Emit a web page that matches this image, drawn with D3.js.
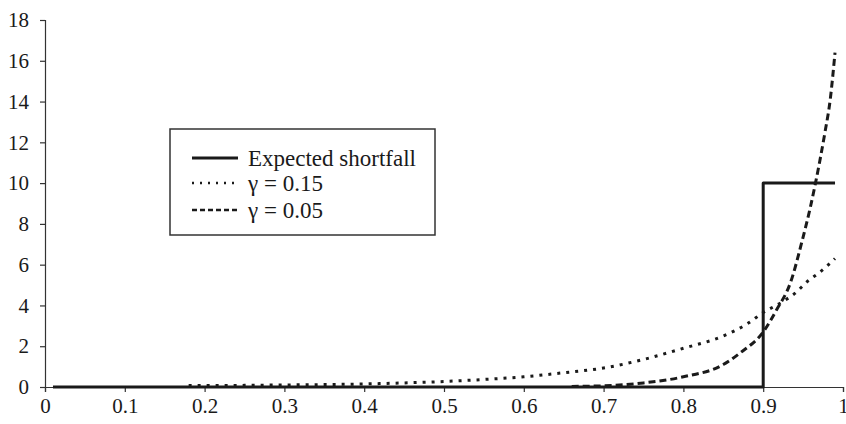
<!DOCTYPE html>
<html>
<head>
<meta charset="utf-8">
<script src="https://cdn.jsdelivr.net/npm/d3@7"></script>
<style>
	body { margin: 0; background: #fff; }
	svg text { font-family: "Liberation Serif", serif; fill: #1a1a1a; }
</style>
</head>
<body>
<div id="chart"></div>
<script>
// x positions (quantile level) and values
var esX = [0.01, 0.9, 0.9, 0.99];
var esY = [0, 0, 10, 10];

var g15X = [0.18, 0.25, 0.3, 0.35, 0.4, 0.45, 0.5, 0.55, 0.6, 0.65, 0.7, 0.75, 0.8, 0.85, 0.88, 0.9, 0.925, 0.94, 0.956, 0.97, 0.99];
var g15Y = [0.07, 0.08, 0.1, 0.12, 0.15, 0.2, 0.27, 0.37, 0.5, 0.7, 0.93, 1.35, 1.9, 2.5, 3.1, 3.65, 4.2, 4.6, 5.2, 5.6, 6.3];

var g05X = [0.66, 0.7, 0.75, 0.8, 0.85, 0.871, 0.9, 0.917, 0.934, 0.949, 0.959, 0.965, 0.971, 0.977, 0.984, 0.99];
var g05Y = [0.03, 0.06, 0.2, 0.5, 1.1, 1.67, 2.7, 3.8, 5.1, 7.2, 8.8, 9.9, 11.1, 12.4, 14.1, 16.4];

var xTicks = [0, 0.1, 0.2, 0.3, 0.4, 0.5, 0.6, 0.7, 0.8, 0.9, 1];
var yTicks = [0, 2, 4, 6, 8, 10, 12, 14, 16, 18];
var legendLabels = ["Expected shortfall", "\u03b3 = 0.15", "\u03b3 = 0.05"];

var width = 846, height = 424;
var margin = {top: 20, left: 45, right: 3, bottom: 37};

var svg = d3.select("#chart").append("svg")
	.attr("width", width)
	.attr("height", height);

var xScale = d3.scaleLinear().domain([0, 1]).range([margin.left, width - margin.right]);
var yScale = d3.scaleLinear().domain([0, 18]).range([height - margin.bottom, margin.top]);

// axes
var xAxis = d3.axisBottom(xScale).tickValues(xTicks).tickSize(5).tickPadding(6)
	.tickFormat(function(d){ return d === 0 || d === 1 ? d3.format("d")(d) : d3.format(".1f")(d); });
var yAxis = d3.axisLeft(yScale).tickValues(yTicks).tickSize(5).tickPadding(11);

var gx = svg.append("g")
	.attr("transform", "translate(0," + yScale(0) + ")")
	.call(xAxis);
var gy = svg.append("g")
	.attr("transform", "translate(" + xScale(0) + ",0)")
	.call(yAxis);

[gx, gy].forEach(function(g) {
	g.attr("font-family", "Liberation Serif").attr("font-size", 21);
	g.select(".domain").attr("stroke", "#333").attr("stroke-width", 1.2);
	g.selectAll(".tick line").attr("stroke", "#333").attr("stroke-width", 1.2);
	g.selectAll(".tick text")
		.attr("font-family", "Liberation Serif")
		.attr("font-size", 21)
		.attr("fill", "#1a1a1a");
});

function toPoints(xs, ys) {
	return xs.map(function(x, i){ return [x, ys[i]]; });
}

var line = d3.line()
	.x(function(d){ return xScale(d[0]); })
	.y(function(d){ return yScale(d[1]); });

var smooth = d3.line()
	.curve(d3.curveMonotoneX)
	.x(function(d){ return xScale(d[0]); })
	.y(function(d){ return yScale(d[1]); });

svg.append("path")
	.attr("d", smooth(toPoints(g15X, g15Y)))
	.attr("fill", "none")
	.attr("stroke", "#1a1a1a")
	.attr("stroke-width", 3)
	.attr("stroke-dasharray", "3,6");

svg.append("path")
	.attr("d", smooth(toPoints(g05X, g05Y)))
	.attr("fill", "none")
	.attr("stroke", "#1a1a1a")
	.attr("stroke-width", 3)
	.attr("stroke-dasharray", "7,4");

svg.append("path")
	.attr("d", line(toPoints(esX, esY)))
	.attr("fill", "none")
	.attr("stroke", "#1a1a1a")
	.attr("stroke-width", 3)
	.attr("stroke-linejoin", "round");

// legend box
var legend = svg.append("g").attr("transform", "translate(170,129)");
legend.append("rect")
	.attr("width", 265)
	.attr("height", 106)
	.attr("fill", "#fff")
	.attr("stroke", "#333")
	.attr("stroke-width", 1.5);

var rowY = [29, 54, 81];
var dashes = [null, "2,6", "5,3"];
var widths = [3, 2.5, 2.5];

legendLabels.forEach(function(label, i) {
	var ln = legend.append("line")
		.attr("x1", 22).attr("x2", 68)
		.attr("y1", rowY[i]).attr("y2", rowY[i])
		.attr("stroke", "#1a1a1a")
		.attr("stroke-width", widths[i]);
	if (dashes[i]) ln.attr("stroke-dasharray", dashes[i]);
	legend.append("text")
		.attr("x", 78)
		.attr("y", rowY[i])
		.attr("dy", "0.33em")
		.attr("font-family", "Liberation Serif")
		.attr("font-size", 23)
		.text(label);
});
</script>
</body>
</html>
